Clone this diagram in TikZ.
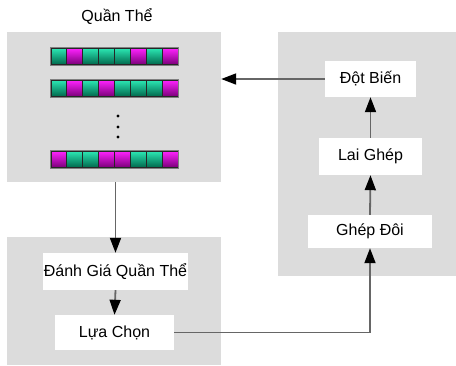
\documentclass[tikz,border=0pt]{standalone}
\usepackage{fontspec}
\setmainfont{Liberation Sans}
\usetikzlibrary{arrows.meta}
\definecolor{panel}{HTML}{DCDCDC}
\definecolor{linegray}{HTML}{666666}
\definecolor{gtop}{HTML}{2CE8B4}
\definecolor{gbot}{HTML}{00684C}
\definecolor{mtop}{HTML}{FF22FF}
\definecolor{mbot}{HTML}{7A0078}
\tikzset{
  panelbox/.style={fill=panel, draw=none, inner sep=0pt},
  stepbox/.style={fill=white, draw=none, inner sep=0pt, font=\fontsize{16pt}{19pt}\selectfont},
  arr/.style={draw=linegray, line width=1.8pt, -{Triangle[length=15pt,width=11pt,color=black]}},
  gcell/.style={top color=gtop, bottom color=gbot, draw=black!85, line width=0.9pt},
  mcell/.style={top color=mtop, bottom color=mbot, draw=black!85, line width=0.9pt},
}
\begin{document}
\begin{tikzpicture}[x=1pt, y=-1pt]
\useasboundingbox (0,0) rectangle (456,365);
% panels
\node[panelbox, minimum width=214pt, minimum height=150pt] (pop) at (114,107) {};
\node[panelbox, minimum width=178pt, minimum height=244pt] (right) at (367,154) {};
\node[panelbox, minimum width=214pt, minimum height=128pt] (low) at (114,301) {};
% title
\node[font=\fontsize{16pt}{19pt}\selectfont] (title) at (117,17) {Quần Thể};
% chromosomes
\foreach \row/\y in {{g,m,g,g,g,m,g,m}/48, {g,m,g,m,g,g,g,m}/80, {m,g,g,m,m,g,g,m}/151}{
  \foreach \c [count=\i from 0] in \row {
    \path[\c cell] ({51+\i*15.875},\y) rectangle ++(15.875,16.5);
  }
  \draw[gray, line width=0.7pt] (50.5,\y-0.5) rectangle (178.5,\y+17);
}
\foreach \y in {116,127,137} \fill (118,\y) circle (1.7pt);
% step nodes
\node[stepbox, minimum width=91pt, minimum height=36pt] (mut) at (370.5,79) {Đột Biến};
\node[stepbox, minimum width=103pt, minimum height=37pt] (cross) at (370.5,156.5) {Lai Ghép};
\node[stepbox, minimum width=124pt, minimum height=33pt] (pair) at (370,231.5) {Ghép Đôi};
\node[stepbox, minimum width=145pt, minimum height=37pt] (eval) at (115.5,271.5) {Đánh Giá Quần Thể};
\node[stepbox, minimum width=119pt, minimum height=35pt] (sel) at (114.5,332.5) {Lựa Chọn};
% connectors
\draw[arr] (mut.west) -- (mut.west -| pop.east);
\draw[arr] (cross.north) -- (mut.south);
\draw[arr] (pair.north) -- (cross.south);
\draw[arr] (pop.south -| eval.north) -- (eval.north);
\draw[arr] (eval.south) -- (sel.north);
\draw[arr] (sel.east) -| (pair.south);
\end{tikzpicture}
\end{document}
